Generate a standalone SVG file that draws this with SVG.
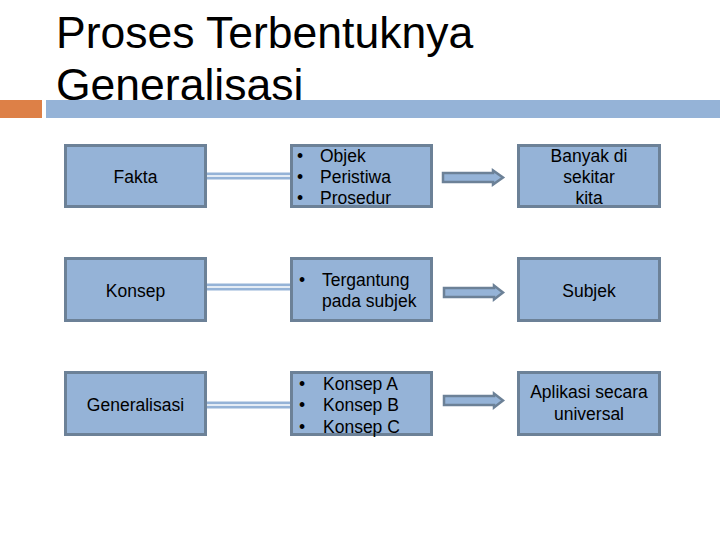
<svg xmlns="http://www.w3.org/2000/svg" width="720" height="540" viewBox="0 0 720 540">
<style>
.box{fill:#95b3d7;stroke:#6c8197;stroke-width:3}
.t{font-family:"Liberation Sans",Arial,sans-serif;font-size:17.5px;fill:#000}
.c{text-anchor:middle}
.title{font-family:"Liberation Sans",Arial,sans-serif;font-size:44.5px;fill:#000}
.dl{stroke:#95b3d7;stroke-width:7;fill:none}
.dlw{stroke:#ffffff;stroke-width:1.5;fill:none}
.arr{fill:#95b3d7;stroke:#6c8197;stroke-width:2.5;stroke-linejoin:miter}
</style>
<rect width="720" height="540" fill="#ffffff"/>
<g id="title">
<text class="title" x="56" y="48">Proses Terbentuknya</text>
<text class="title" x="56" y="100">Generalisasi</text>
<rect x="0" y="100" width="42" height="18" fill="#dd8047"/>
<rect x="46" y="100" width="674" height="18" fill="#95b3d7"/>
</g>
<g id="connectors">
<line class="dl" x1="207" y1="176" x2="290" y2="176"/>
<line class="dlw" x1="207" y1="176" x2="290" y2="176"/>
<line class="dl" x1="207" y1="287" x2="290" y2="287"/>
<line class="dlw" x1="207" y1="287" x2="290" y2="287"/>
<line class="dl" x1="207" y1="405" x2="290" y2="405"/>
<line class="dlw" x1="207" y1="405" x2="290" y2="405"/>
<path class="arr" d="M443,173 H493 V170.5 L503,177.5 L493,184.5 V182 H443 Z"/>
<path class="arr" d="M444,288 H494 V285.5 L503,292.5 L494,299.5 V297 H444 Z"/>
<path class="arr" d="M444,396 H494 V393.5 L503,400.5 L494,407.5 V405 H444 Z"/>
</g>
<g id="fakta">
<rect class="box" x="65.5" y="145.5" width="140" height="61"/>
<text class="t c" x="135.5" y="183">Fakta</text>
</g>
<g id="konsep">
<rect class="box" x="65.5" y="258.5" width="140" height="62"/>
<text class="t c" x="135.5" y="297">Konsep</text>
</g>
<g id="generalisasi">
<rect class="box" x="65.5" y="372.5" width="140" height="62"/>
<text class="t c" x="135.5" y="411">Generalisasi</text>
</g>
<g id="list1">
<rect class="box" x="291.5" y="145.5" width="140" height="61"/>
<text class="t" x="297" y="162">•</text><text class="t" x="320" y="162">Objek</text>
<text class="t" x="297" y="183">•</text><text class="t" x="320" y="183">Peristiwa</text>
<text class="t" x="297" y="204">•</text><text class="t" x="320" y="204">Prosedur</text>
</g>
<g id="list2">
<rect class="box" x="291.5" y="258.5" width="140" height="62"/>
<text class="t" x="299" y="286">•</text><text class="t" x="322" y="286">Tergantung</text>
<text class="t" x="322" y="307">pada subjek</text>
</g>
<g id="list3">
<rect class="box" x="291.5" y="372.5" width="140" height="62"/>
<text class="t" x="299" y="390">•</text><text class="t" x="323" y="390">Konsep A</text>
<text class="t" x="299" y="411">•</text><text class="t" x="323" y="411">Konsep B</text>
<text class="t" x="299" y="433">•</text><text class="t" x="323" y="433">Konsep C</text>
</g>
<g id="banyak">
<rect class="box" x="518.5" y="145.5" width="141" height="61"/>
<text class="t c" x="589" y="162">Banyak di</text>
<text class="t c" x="589" y="183">sekitar</text>
<text class="t c" x="589" y="204">kita</text>
</g>
<g id="subjek">
<rect class="box" x="518.5" y="258.5" width="141" height="62"/>
<text class="t c" x="589" y="297">Subjek</text>
</g>
<g id="aplikasi">
<rect class="box" x="518.5" y="372.5" width="141" height="62"/>
<text class="t c" x="589" y="398">Aplikasi secara</text>
<text class="t c" x="589" y="420">universal</text>
</g>
</svg>
